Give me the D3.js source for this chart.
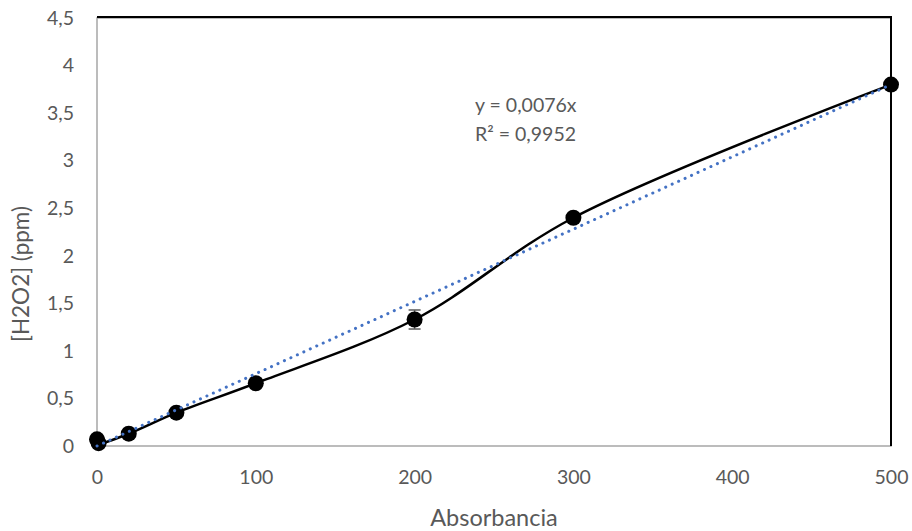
<!DOCTYPE html>
<html><head><meta charset="utf-8">
<script src="https://cdn.jsdelivr.net/npm/d3@7"></script>
<style>body{margin:0;background:#fff}svg{display:block}</style>
</head><body>
<script>
const absorbancia = [0, 1, 20, 50, 100, 200, 300, 500];
const h2o2 = [0.07, 0.03, 0.13, 0.35, 0.66, 1.33, 2.40, 3.80];
const errores = [0, 0, 0, 0, 0, 0.1, 0, 0];
const xTicks = [0, 100, 200, 300, 400, 500];
const yTicks = [0, 0.5, 1, 1.5, 2, 2.5, 3, 3.5, 4, 4.5];
const slope = 0.0076;
const eqLines = ["y = 0,0076x", "R² = 0,9952"];

const W = 912, H = 531;
const m = {l: 97, r: 891, t: 18, b: 446};
const font = "Lato, 'Open Sans', sans-serif";
const svg = d3.select("body").append("svg").attr("width", W).attr("height", H);
const x = d3.scaleLinear().domain([0, 500]).range([m.l, m.r]);
const y = d3.scaleLinear().domain([0, 4.5]).range([m.b, m.t]);
const fmt = d => String(d).replace(".", ",");

// frame
svg.append("rect").attr("x", m.l).attr("y", m.t).attr("width", m.r - m.l).attr("height", m.b - m.t)
  .attr("fill", "none").attr("stroke", "#a6a6a6").attr("stroke-width", 1.5);
svg.append("path").attr("d", `M${m.l},${m.t - 1}H${m.r}V${m.b}`).attr("fill", "none")
  .attr("stroke", "#000").attr("stroke-width", 2);

// axes
const xa = svg.append("g").attr("transform", `translate(0,${m.b})`)
  .call(d3.axisBottom(x).tickValues(xTicks).tickSize(0).tickPadding(24).tickFormat(fmt));
const ya = svg.append("g").attr("transform", `translate(${m.l},0)`)
  .call(d3.axisLeft(y).tickValues(yTicks).tickSize(0).tickPadding(23).tickFormat(fmt));
[xa, ya].forEach(g => {
  g.select(".domain").remove();
  g.selectAll("text").attr("font-family", font).attr("font-size", 19.5).attr("fill", "#595959");
});

// axis titles
svg.append("text").attr("x", (m.l + m.r) / 2).attr("y", 526).attr("text-anchor", "middle")
  .attr("font-family", font).attr("font-size", 23.5).attr("fill", "#595959").text("Absorbancia");
svg.append("text").attr("transform", `translate(29,274) rotate(-90)`)
  .attr("text-anchor", "middle").attr("font-family", font).attr("font-size", 22.5)
  .attr("fill", "#595959").text("[H2O2] (ppm)");

const pts = absorbancia.map((a, i) => ({a, v: h2o2[i], e: errores[i]}));

// smooth line
svg.append("path").datum(pts)
  .attr("d", d3.line().x(d => x(d.a)).y(d => y(d.v)).curve(d3.curveCatmullRom.alpha(0.5)))
  .attr("fill", "none").attr("stroke", "#000").attr("stroke-width", 2.5);

// error bars
const eb = svg.append("g").attr("stroke", "#595959").attr("stroke-width", 1.5);
pts.filter(d => d.e > 0).forEach(d => {
  eb.append("line").attr("x1", x(d.a)).attr("x2", x(d.a)).attr("y1", y(d.v - d.e)).attr("y2", y(d.v + d.e));
  [d.v - d.e, d.v + d.e].forEach(v => eb.append("line")
    .attr("x1", x(d.a) - 6).attr("x2", x(d.a) + 6).attr("y1", y(v)).attr("y2", y(v)));
});

// markers
svg.append("g").selectAll("circle").data(pts).join("circle")
  .attr("cx", d => x(d.a)).attr("cy", d => y(d.v)).attr("r", 8).attr("fill", "#000");

// trendline
svg.append("line").attr("x1", x(0)).attr("y1", y(0)).attr("x2", x(500)).attr("y2", y(slope * 500))
  .attr("stroke", "#4472c4").attr("stroke-width", 3).attr("stroke-linecap", "round")
  .attr("stroke-dasharray", "0.1 7");

// equation
svg.append("g").selectAll("text").data(eqLines).join("text")
  .attr("x", 475).attr("y", (d, i) => 112 + i * 29)
  .attr("font-family", font).attr("font-size", 19.5).attr("fill", "#595959").text(d => d);
</script>
</body></html>
